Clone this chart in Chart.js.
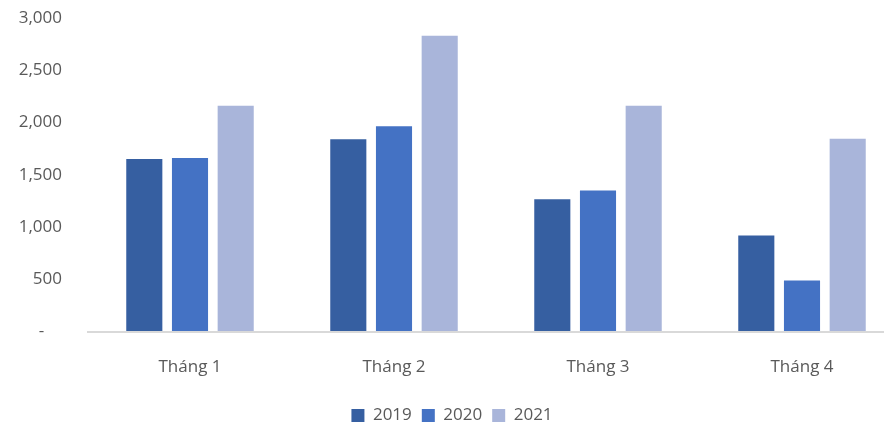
<!DOCTYPE html>
<html>
<head>
<meta charset="utf-8">
<script src="https://cdn.jsdelivr.net/npm/chart.js@4"></script>
<style>
  html, body { margin: 0; padding: 0; background: #fff; overflow: hidden; }
  /* the original is cropped on the right, so the chart is drawn a bit wider than the window */
  #wrap { width: 904px; height: 425px; }
</style>
</head>
<body>
<div id="wrap"><canvas id="chart"></canvas></div>
<script>
const months = ['Tháng 1', 'Tháng 2', 'Tháng 3', 'Tháng 4'];
const sales2019 = [1650, 1840, 1265, 920];
const sales2020 = [1660, 1965, 1350, 490];
const sales2021 = [2160, 2830, 2160, 1845];
const yTicks = [0, 500, 1000, 1500, 2000, 2500, 3000];

document.addEventListener("DOMContentLoaded", function () {
    const ctx = document.getElementById('chart').getContext('2d');
    const font = { family: "'Open Sans', 'Liberation Sans', sans-serif", size: 17 };

    new Chart(ctx, {
        type: 'bar',
        data: {
            labels: months,
            datasets: [
                { label: '2019', data: sales2019, backgroundColor: '#365FA1' },
                { label: '2020', data: sales2020, backgroundColor: '#4472C4' },
                { label: '2021', data: sales2021, backgroundColor: '#A9B5DA' }
            ]
        },
        options: {
            responsive: true,
            maintainAspectRatio: false,
            animation: false,
            datasets: {
                bar: { categoryPercentage: 0.672, barPercentage: 0.79 }
            },
            layout: { padding: { top: 18, right: 0, bottom: -9, left: 0 } },
            plugins: {
                legend: {
                    position: 'bottom',
                    labels: {
                        boxWidth: 13,
                        boxHeight: 13,
                        padding: 10,
                        color: '#595959',
                        font: font
                    }
                },
                tooltip: { enabled: false }
            },
            scales: {
                x: {
                    grid: { display: false, drawTicks: false },
                    border: { color: '#D9D9D9', width: 2 },
                    ticks: { color: '#595959', font: font, padding: 25 },
                    afterFit: axis => { axis.height -= 5; }
                },
                y: {
                    min: 0,
                    max: 3000,
                    afterBuildTicks: axis => { axis.ticks = yTicks.map(v => ({ value: v })); },
                    afterFit: axis => { axis.width = 88; },
                    grid: {
                        display: true,
                        drawOnChartArea: false,
                        drawTicks: true,
                        tickLength: 26,
                        color: 'rgba(0,0,0,0)'
                    },
                    border: { display: false },
                    ticks: {
                        color: '#595959',
                        font: font,
                        padding: 0,
                        callback: v => v === 0 ? '-    ' : v.toLocaleString('en-US')
                    }
                }
            }
        }
    });
});
</script>
</body>
</html>
